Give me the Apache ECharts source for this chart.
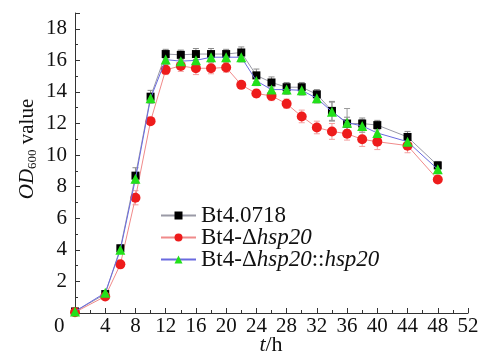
<!DOCTYPE html>
<html><head><meta charset="utf-8">
<script src="https://cdn.jsdelivr.net/npm/echarts@6/dist/echarts.min.js"></script>
<style>html,body{margin:0;padding:0;background:#fff}#c{width:485px;height:358px}</style>
</head><body><div id="c"></div>
<script>
var hours = [0, 4, 6, 8, 10, 12, 14, 16, 18, 20, 22, 24, 26, 28, 30, 32, 34, 36, 38, 40, 44, 48];
var wildType = [0.1, 1.2, 4.1, 8.7, 13.7, 16.4, 16.35, 16.4, 16.4, 16.4, 16.5, 15.05, 14.6, 14.3, 14.3, 13.85, 12.8, 12.0, 12.0, 11.9, 11.15, 9.35];
var wildTypeErr = [0.05, 0.15, 0.2, 0.5, 0.4, 0.3, 0.3, 0.35, 0.35, 0.3, 0.35, 0.4, 0.35, 0.3, 0.3, 0.3, 0.6, 0.4, 0.35, 0.3, 0.35, 0.25];
var mutant = [0.05, 1.05, 3.08, 7.3, 12.15, 15.4, 15.65, 15.5, 15.5, 15.55, 14.45, 13.9, 13.75, 13.25, 12.45, 11.75, 11.5, 11.35, 11.0, 10.85, 10.6, 8.45];
var mutantErr = [0.05, 0.1, 0.2, 0.45, 0.2, 0.3, 0.35, 0.4, 0.35, 0.3, 0.2, 0.25, 0.3, 0.3, 0.4, 0.4, 0.5, 0.4, 0.45, 0.5, 0.45, 0.2];
var complemented = [0.1, 1.28, 4.0, 8.5, 13.6, 16.05, 15.95, 16.0, 16.2, 16.2, 16.2, 14.7, 14.15, 14.15, 14.1, 13.6, 12.75, 12.05, 11.85, 11.4, 10.85, 9.1];
var complementedErr = [0.05, 0.1, 0.15, 0.3, 0.3, 0.3, 0.3, 0.3, 0.3, 0.3, 0.3, 0.3, 0.3, 0.3, 0.3, 0.3, 0.6, 0.9, 0.4, 0.4, 0.4, 0.25];
var seriesNames = ['Bt4.0718', 'Bt4-Δhsp20', 'Bt4-Δhsp20::hsp20'];
var xTickMax = 52, yTickMax = 19;

var FONT = 'Liberation Serif';
function pairs(v){ return hours.map(function(h,i){ return [h, v[i]]; }); }
function errData(v,e){ return hours.map(function(h,i){ return [h, v[i]-e[i], v[i]+e[i]]; }); }
function errSeries(v,e,color){
  return {
    type:'custom', silent:true, z:1,
    data: errData(v,e),
    renderItem: function(params, api){
      var lo = api.coord([api.value(0), api.value(1)]);
      var hi = api.coord([api.value(0), api.value(2)]);
      var w = 3;
      var st = {stroke: color, lineWidth: 1, fill: null};
      return {type:'group', children:[
        {type:'line', shape:{x1:lo[0],y1:lo[1],x2:hi[0],y2:hi[1]}, style:st},
        {type:'line', shape:{x1:lo[0]-w,y1:lo[1],x2:lo[0]+w,y2:lo[1]}, style:st},
        {type:'line', shape:{x1:hi[0]-w,y1:hi[1],x2:hi[0]+w,y2:hi[1]}, style:st}
      ]};
    }
  };
}
var chart = echarts.init(document.getElementById('c'), null, {renderer:'canvas'});
chart.setOption({
  animation:false,
  backgroundColor:'#fff',
  grid:{left:75, right:17, top:13, bottom:45, containLabel:false, outerBoundsMode:'none'},
  xAxis:{
    type:'value', min:0, max:xTickMax, interval:4,
    axisLine:{show:true, onZero:false, lineStyle:{color:'#333', width:1}},
    axisTick:{show:true, inside:true, length:5, lineStyle:{color:'#333'}},
    minorTick:{show:true, splitNumber:2, length:3, lineStyle:{color:'#333'}},
    splitLine:{show:false},
    axisLabel:{fontFamily:FONT, fontSize:21, color:'#111', margin:3,
      formatter:function(v){ return v===0 ? '' : String(v); }}
  },
  yAxis:{
    type:'value', min:0, max:yTickMax, interval:2,
    axisLine:{show:true, onZero:false, lineStyle:{color:'#333', width:1}},
    axisTick:{show:true, inside:true, length:5, lineStyle:{color:'#333'}},
    minorTick:{show:true, splitNumber:2, length:3, lineStyle:{color:'#333'}},
    splitLine:{show:false},
    axisLabel:{fontFamily:FONT, fontSize:21, color:'#111', margin:8,
      formatter:function(v){ return (v===0 || v%2!==0) ? '' : String(v); }}
  },
  legend:{
    orient:'vertical', left:155, top:199, itemGap:-1, itemWidth:35, itemHeight:10,
    data:seriesNames,
    textStyle:{fontFamily:FONT, fontSize:23, color:'#111', rich:{
      n:{fontFamily:FONT, fontSize:23, color:'#111'},
      i:{fontFamily:FONT, fontSize:23, color:'#111', fontStyle:'italic'}
    }},
    formatter:function(name){
      if(name==='Bt4-Δhsp20') return '{n|Bt4-Δ}{i|hsp20}';
      if(name==='Bt4-Δhsp20::hsp20') return '{n|Bt4-Δ}{i|hsp20}{n|::}{i|hsp20}';
      return '{n|'+name+'}';
    }
  },
  graphic:[
    {type:'text', left:54, top:316, style:{text:'0', fontFamily:FONT, fontSize:21, fill:'#111'}},
    {type:'text', x:271, y:345, style:{
      text:'{i|t}{n|/h}', align:'center', verticalAlign:'middle',
      rich:{i:{fontFamily:FONT,fontSize:22,fontStyle:'italic',fill:'#111'},
            n:{fontFamily:FONT,fontSize:22,fill:'#111'}}
    }},
    {type:'text', x:27, y:149, rotation:Math.PI/2, style:{
      text:'{i|OD}{s|600}{n| value}', align:'center', verticalAlign:'middle',
      rich:{i:{fontFamily:FONT,fontSize:21,fontStyle:'italic',fill:'#111'},
            s:{fontFamily:FONT,fontSize:13,fill:'#111',verticalAlign:'bottom',padding:[12,0,0,0]},
            n:{fontFamily:FONT,fontSize:21,fill:'#111'}}
    }}
  ],
  series:[
    errSeries(wildType, wildTypeErr, '#8a8a8a'),
    errSeries(mutant, mutantErr, '#f2a0a0'),
    errSeries(complemented, complementedErr, '#9a9a9a'),
    {name:seriesNames[0], type:'line', data:pairs(wildType), symbol:'rect', symbolSize:8, z:3,
      itemStyle:{color:'#000'}, lineStyle:{color:'#9a9aa6', width:1}},
    {name:seriesNames[1], type:'line', data:pairs(mutant), symbol:'circle', symbolSize:10, z:3,
      itemStyle:{color:'#ee1c1c'}, lineStyle:{color:'#f08a8a', width:1}},
    {name:seriesNames[2], type:'line', data:pairs(complemented), symbol:'triangle', symbolSize:10, z:4,
      itemStyle:{color:'#22e01a'}, lineStyle:{color:'#6a6ae0', width:1}}
  ]
});
</script></body></html>
